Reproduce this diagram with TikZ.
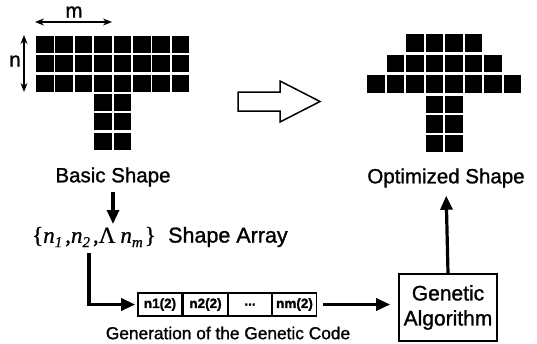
\documentclass[tikz,border=0pt]{standalone}
\usepackage{fontspec}
\setmainfont{Liberation Sans}[FakeBold=1.2]
\newfontfamily\serifit{Liberation Serif Italic}[FakeBold=0.8]
\newfontfamily\serifrm{Liberation Serif}[FakeBold=0.8]
\newcommand\idx[1]{\raisebox{-0.4ex}{\fontsize{15}{15}\selectfont #1}}
\usetikzlibrary{arrows.meta}
\begin{document}
\begin{tikzpicture}[x=1pt,y=-1pt,
  cell/.style={fill=black},
  lbl/.style={inner sep=0pt,font=\fontsize{20.5}{24}\selectfont},
  thin arrow/.style={line width=1.3pt,{Stealth[length=9pt,width=7pt]}-{Stealth[length=9pt,width=7pt]}},
  flow/.style={line width=3.2pt,-{Triangle[length=14pt,width=12pt]}},
  codebox/.style={draw,line width=1.6pt,minimum width=44pt,minimum height=23pt,inner sep=0pt,font=\fontsize{13.5}{14}\bfseries},
  gabox/.style={draw,line width=1.6pt,minimum width=98pt,minimum height=67pt,inner sep=0pt,align=center,font=\fontsize{21}{25}\selectfont}]
\useasboundingbox (0,0) rectangle (537,343);
% basic shape
\foreach \j in {0,1,2}{\foreach \i in {0,...,7}{
  \fill[cell] ({36+19.4*\i},{36+19.3*\j}) rectangle ++(17.5,17);}}
\foreach \j in {3,4,5}{\foreach \i in {3,4}{
  \fill[cell] ({36+19.4*\i},{36+19.3*\j}) rectangle ++(17.5,17);}}
% optimized shape
\foreach \i in {2,...,5}{\fill[cell] ({367+19.5*\i},34) rectangle ++(17.5,17.5);}
\foreach \i in {1,...,6}{\fill[cell] ({367+19.5*\i},54.5) rectangle ++(17.5,17.5);}
\foreach \i in {0,...,7}{\fill[cell] ({367+19.5*\i},75) rectangle ++(17.5,17.5);}
\foreach \j in {0,1,2}{\foreach \i in {3,4}{
  \fill[cell] ({367+19.5*\i},{95.5+19.5*\j}) rectangle ++(17.5,17.5);}}
% m and n
\node[lbl] (mlabel) at (74,12) {m};
\coordinate (mL) at (35,22); \coordinate (mR) at (112,22);
\draw[thin arrow] (mL) -- (mR);
\node[lbl] (nlabel) at (15,61) {n};
\coordinate (nT) at (24,35); \coordinate (nB) at (24,92);
\draw[thin arrow] (nT) -- (nB);
% hollow arrow
\draw[line width=1.5pt,line join=miter] (238,92) -- (280,92) -- (280,81) -- (320,101.5) -- (280,122) -- (280,111) -- (238,111) -- cycle;
% labels
\node[lbl] (basic) at (113,177) {Basic Shape};
\node[lbl] (opt) at (446,178) {Optimized Shape};
\node[inner sep=0pt,font=\fontsize{23}{26}\selectfont] (arr) at (94,237)
  {\serifrm\{\serifit n\idx{1}\kern3pt\serifrm,\serifit n\idx{2}\kern3pt\serifrm,Λ\kern5pt\serifit n\idx{\serifit m}\kern2pt\serifrm\}};
\node[lbl,anchor=west,font=\fontsize{21.5}{24}\selectfont] (sarr) at (168,237) {Shape Array};
\coordinate (dA) at (113,192);
\coordinate (dB) at (113,224);
\draw[flow] (dA) -- (dB);
% code boxes
\node[codebox] (b1) at (160,304.5) {n1(2)};
\node[codebox] (b2) at (205.5,304.5) {n2(2)};
\node[codebox] (b3) at (250,304.5) {...};
\node[codebox] (b4) at (294.5,304.5) {nm(2)};
\coordinate (start) at (89,253);
\draw[flow,shorten >=2pt] (start) |- (b1.west);
\node[inner sep=0pt,font=\fontsize{17.3}{20}\selectfont] (cap) at (228,333) {Generation of the Genetic Code};
% GA box
\node[gabox] (ga) at (448,307.5) {Genetic\\Algorithm};
\draw[flow,shorten <=6pt,shorten >=8pt] (b4.east) -- (ga.west |- b4.east);
\draw[flow,shorten >=8pt] (ga.north) -- (opt.south);
\end{tikzpicture}
\end{document}
